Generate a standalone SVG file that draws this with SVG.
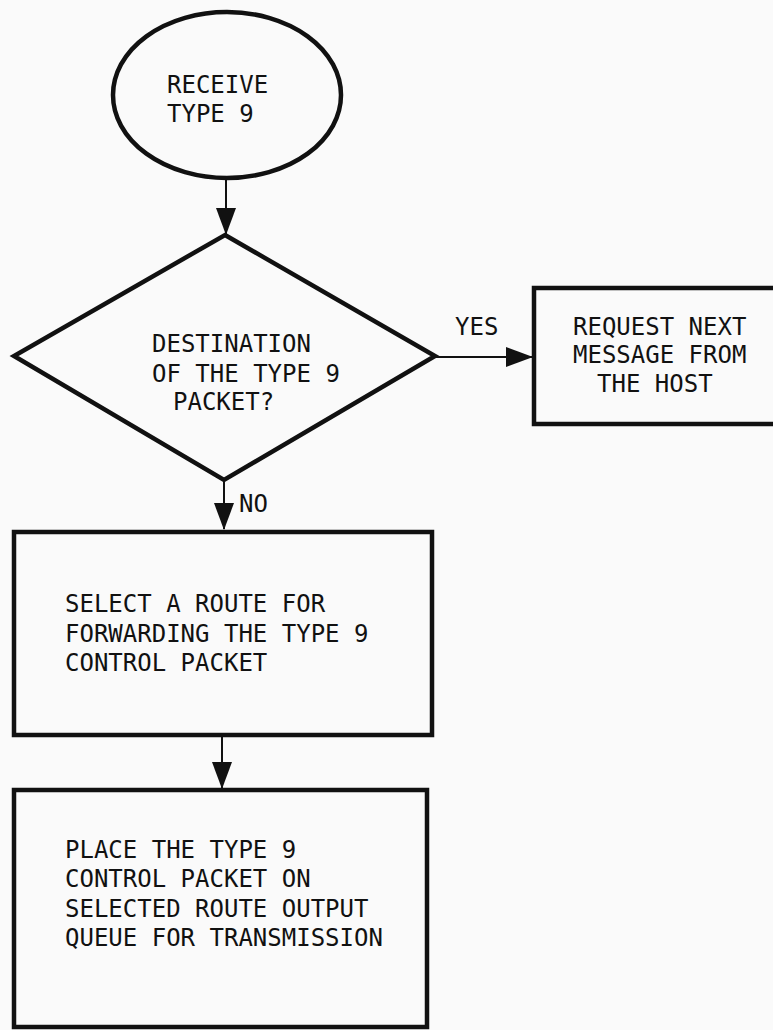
<svg xmlns="http://www.w3.org/2000/svg" width="773" height="1030" viewBox="0 0 773 1030">
  <style>
    .shape { fill: none; stroke: #111; stroke-width: 4.5; stroke-linejoin: miter; }
    .wire { fill: none; stroke: #111; stroke-width: 2; }
    text { font-family: "DejaVu Sans Mono", "Liberation Mono", monospace; font-size: 24px; fill: #111; }
  </style>
  <defs>
    <!-- solid arrowhead drawn along +x, rotated with the line direction -->
    <marker id="arrow" markerUnits="userSpaceOnUse" markerWidth="27" markerHeight="20" viewBox="0 0 27 20" refX="26" refY="10" orient="auto">
      <path d="M0,0 L27,10 L0,20 Z" fill="#111"/>
    </marker>
  </defs>

  <rect width="773" height="1030" fill="#fafafa"/>

  <!-- flow connectors -->
  <g id="connectors">
    <line class="wire" x1="226" y1="178" x2="226" y2="234" marker-end="url(#arrow)"/>
    <line class="wire" x1="436" y1="357" x2="532" y2="357" marker-end="url(#arrow)"/>
    <line class="wire" x1="224" y1="482" x2="224" y2="529" marker-end="url(#arrow)"/>
    <line class="wire" x1="222" y1="737" x2="222" y2="788" marker-end="url(#arrow)"/>
    <text x="455" y="335">YES</text>
    <text x="239" y="512">NO</text>
  </g>

  <!-- start terminal -->
  <g id="receive">
    <ellipse class="shape" cx="227" cy="95" rx="114" ry="83"/>
    <text x="167" y="93">RECEIVE</text>
    <text x="167" y="122">TYPE 9</text>
  </g>

  <!-- decision -->
  <g id="destination">
    <polygon class="shape" points="225,235 435,356 224,480 14,356"/>
    <text x="152" y="352">DESTINATION</text>
    <text x="152" y="382">OF THE TYPE 9</text>
    <text x="173" y="410">PACKET?</text>
  </g>

  <!-- yes branch -->
  <g id="request-next">
    <rect class="shape" x="534" y="288" width="260" height="136"/>
    <text x="573" y="335">REQUEST NEXT</text>
    <text x="573" y="363">MESSAGE FROM</text>
    <text x="597" y="392">THE HOST</text>
  </g>

  <!-- no branch -->
  <g id="select-route">
    <rect class="shape" x="14" y="532" width="418" height="203"/>
    <text x="65" y="612">SELECT A ROUTE FOR</text>
    <text x="65" y="642">FORWARDING THE TYPE 9</text>
    <text x="65" y="671">CONTROL PACKET</text>
  </g>

  <g id="place-packet">
    <rect class="shape" x="14" y="790" width="413" height="237"/>
    <text x="65" y="858">PLACE THE TYPE 9</text>
    <text x="65" y="887">CONTROL PACKET ON</text>
    <text x="65" y="917">SELECTED ROUTE OUTPUT</text>
    <text x="65" y="946">QUEUE FOR TRANSMISSION</text>
  </g>
</svg>
